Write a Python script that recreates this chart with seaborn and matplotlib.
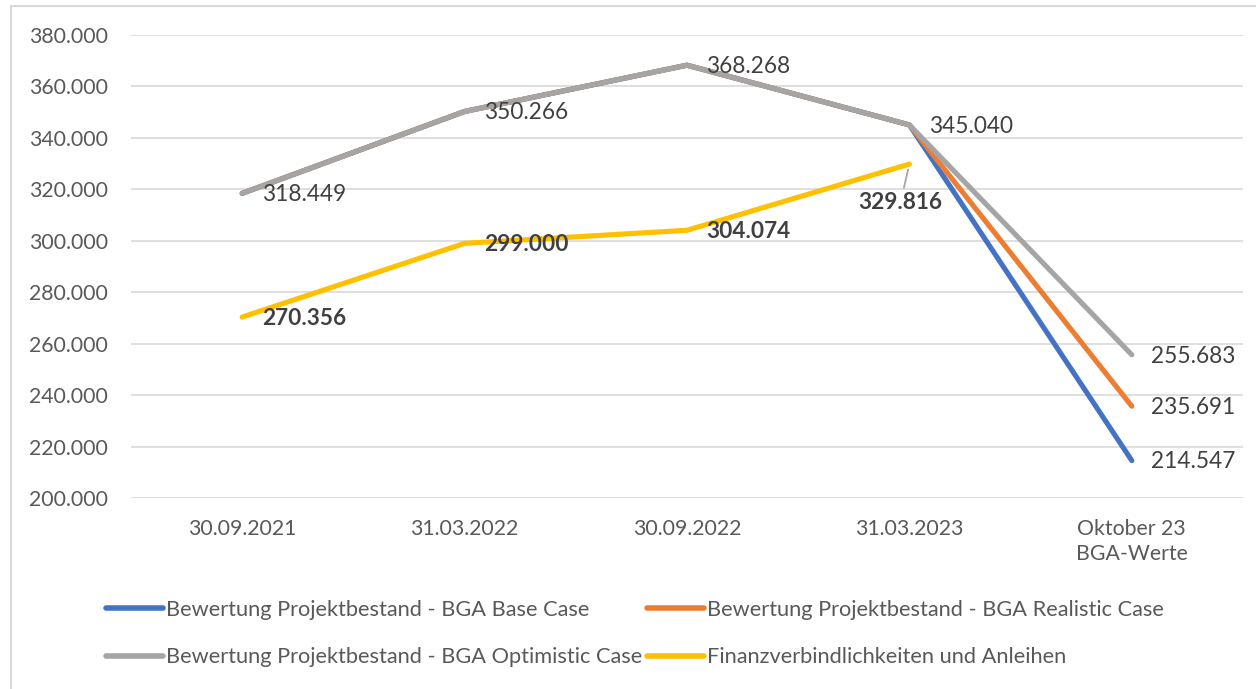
import matplotlib
matplotlib.use("Agg")
import matplotlib.pyplot as plt
from matplotlib.patches import Rectangle
import numpy as np
import pandas as pd
import seaborn as sns

# Stichtage (x-axis categories)
dates = ["30.09.2021", "31.03.2022", "30.09.2022", "31.03.2023", "Oktober 23\nBGA-Werte"]

# Series values in TEUR
base_case = [318.449, 350.266, 368.268, 345.040, 214.547]
realistic_case = [318.449, 350.266, 368.268, 345.040, 235.691]
optimistic_case = [318.449, 350.266, 368.268, 345.040, 255.683]
finanz = [270.356, 299.000, 304.074, 329.816, np.nan]

series_names = [
    "Bewertung Projektbestand - BGA Base Case",
    "Bewertung Projektbestand - BGA Realistic Case",
    "Bewertung Projektbestand - BGA Optimistic Case",
    "Finanzverbindlichkeiten und Anleihen",
]
series_values = [base_case, realistic_case, optimistic_case, finanz]
colors = ["#4472C4", "#ED7D31", "#A5A5A5", "#FFC000"]

rows = []
for name, vals in zip(series_names, series_values):
    for i, v in enumerate(vals):
        rows.append({"pos": i, "Stichtag": dates[i], "Wert": v * 1000, "Reihe": name})
df = pd.DataFrame(rows).dropna()

sns.set_theme(style="white")
plt.rcParams["font.family"] = ["Lato", "DejaVu Sans"]

W, H = 1256, 689
fig = plt.figure(figsize=(W / 100, H / 100), dpi=100)
ax = fig.add_axes([131 / W, 1 - 498 / H, (1243 - 131) / W, (498 - 35) / H])

sns.lineplot(
    data=df, x="pos", y="Wert", hue="Reihe", hue_order=series_names,
    palette=colors, linewidth=3.7, sort=False, ax=ax, legend=True,
    solid_capstyle="round", solid_joinstyle="round",
)

ax.set_xlim(-0.5, len(dates) - 0.5)
ax.set_ylim(200000, 380000)
ax.set_yticks(np.arange(200000, 380001, 20000))
ax.yaxis.set_major_formatter(
    matplotlib.ticker.FuncFormatter(lambda v, _: f"{v:,.0f}".replace(",", "."))
)
ax.set_xticks(range(len(dates)))
ax.set_xticklabels(dates, linespacing=1.3)
ax.set_xlabel("")
ax.set_ylabel("")
ax.grid(axis="y", color="#D9D9D9", linewidth=1.2)
ax.set_axisbelow(True)
for s in ax.spines.values():
    s.set_visible(False)
ax.tick_params(axis="both", length=0, labelsize=15.3, labelcolor="#595959")
ax.tick_params(axis="y", pad=16.5)
ax.tick_params(axis="x", pad=15)

label_color = "#404040"
label_size = 16.3

# Value labels for the scenario lines (shared history + the three October values)
for i in range(4):
    v = optimistic_case[i]
    ax.annotate(f"{v:.3f}", (i, v * 1000), xytext=(14, -1), textcoords="offset points",
                ha="left", va="center", fontsize=label_size, color=label_color)
for vals in (base_case, realistic_case, optimistic_case):
    v = vals[4]
    ax.annotate(f"{v:.3f}", (4, v * 1000), xytext=(14, -1), textcoords="offset points",
                ha="left", va="center", fontsize=label_size, color=label_color)

# Bold labels for the financial liabilities
for i, v in enumerate(finanz):
    if np.isnan(v):
        continue
    if i == 3:
        ax.annotate(f"{v:.3f}", (i, v * 1000), xytext=(-6.5, -28), textcoords="offset points",
                    ha="center", va="center", fontsize=label_size, fontweight="bold", color=label_color,
                    arrowprops=dict(arrowstyle="-", color="#A5A5A5", lw=1.3, shrinkA=1, shrinkB=4))
    else:
        ax.annotate(f"{v:.3f}", (i, v * 1000), xytext=(14, -1), textcoords="offset points",
                    ha="left", va="center", fontsize=label_size, fontweight="bold", color=label_color)

# Legend below the plot, two columns
handles, labels = ax.get_legend_handles_labels()
ax.get_legend().remove()
order = [0, 2, 1, 3]
leg = fig.legend(
    [handles[k] for k in order], [labels[k] for k in order],
    loc="center", bbox_to_anchor=(635 / W, 1 - 633.5 / H), ncol=2, frameon=False,
    fontsize=15.7, handlelength=2.6, handletextpad=0.12, columnspacing=0.25,
    labelspacing=1.28, borderpad=0,
)
for t in leg.get_texts():
    t.set_color("#595959")
for h in leg.get_lines():
    h.set_linewidth(4)
    h.set_solid_capstyle("round")

# Light chart-area border
fig.patches.append(Rectangle((11 / W, -0.1), 1.2, 1.1 - 6 / H, transform=fig.transFigure,
                             fill=False, edgecolor="#D9D9D9", linewidth=1.5))

fig.savefig("out.png", dpi=100, facecolor="white")
